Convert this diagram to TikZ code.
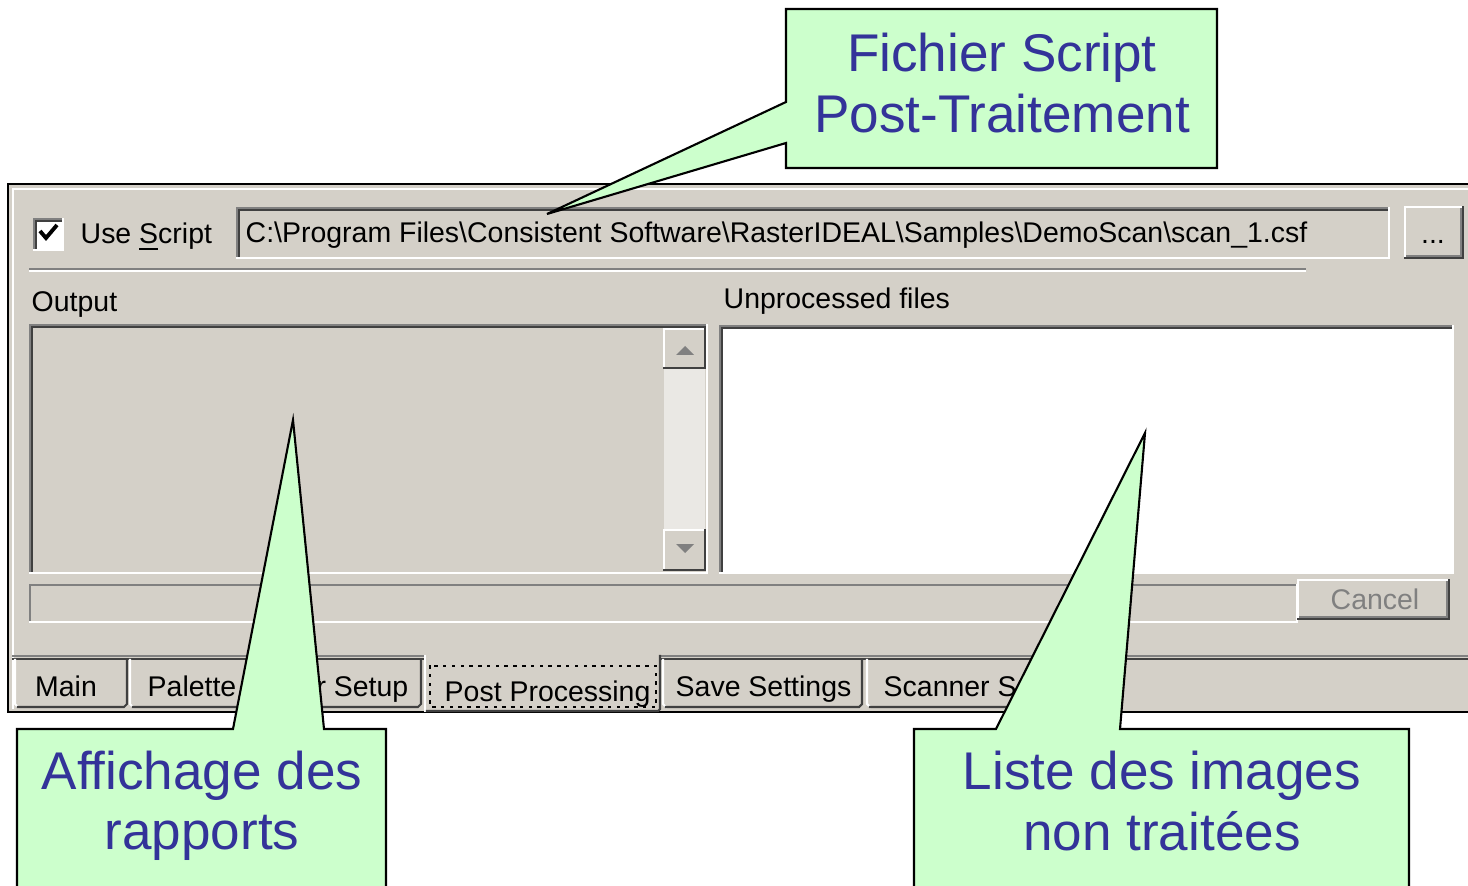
\documentclass[tikz,border=0pt]{standalone}
\usepackage{fontspec}
\setmainfont{Liberation Sans}
\definecolor{winface}{HTML}{D4D0C8}
\definecolor{winshadow}{HTML}{808080}
\definecolor{windark}{HTML}{404040}
\definecolor{scrolltrack}{HTML}{EAE8E4}
\definecolor{notefill}{HTML}{CCFFCC}
\definecolor{notecol}{HTML}{333399}

\begin{document}
\begin{tikzpicture}[x=0.1mm,y=-0.1mm,line cap=rect,
  lit/.style={white,line width=0.6pt},
  shd/.style={winshadow,line width=0.6pt},
  drk/.style={windark,line width=0.6pt},
  wintext/.style={font=\fontsize{8.1}{9.7}\selectfont,inner sep=0pt},
  notebox/.style={draw=black,fill=notefill,line width=0.6pt},
  notetext/.style={font=\fontsize{15.1}{17.1}\selectfont,text=notecol,align=center,inner sep=0pt}]
\useasboundingbox (0,0) rectangle (1468,886);
\begin{scope}
\clip (0,0) rectangle (1468,886);
% dialog panel
\fill[winface] (8,184) rectangle (1490,712);
\draw[line width=0.7pt] (1490,184) -- (8,184) -- (8,712) -- (1490,712);
\draw[lit] (13,708) -- (13,189) -- (1490,189);

% check box, script path and browse button
\fill[white] (34,219) rectangle (63,250);
\draw[shd] (34,250) |- (63,219);
\draw[drk] (36,248) |- (61,221);
\draw[lit] (34,250) -| (63,219);
\draw[line width=1.1pt,line cap=butt] (40,231) -- (46,238) -- (57,225);
\node[wintext,anchor=base west] (usescript) at (80,244) {Use \underline{S}cript};
\draw[shd] (237,258) |- (1389,208);
\draw[drk] (239,256) |- (1387,210);
\draw[lit] (237,258) -| (1389,208);
\node[wintext,anchor=base west] (scriptpath) at (245,243) {C:\textbackslash{}Program Files\textbackslash{}Consistent Software\textbackslash{}RasterIDEAL\textbackslash{}Samples\textbackslash{}DemoScan\textbackslash{}scan\_1.csf};
\draw[lit] (1405,258) |- (1463,207);
\draw[drk] (1405,258) -| (1463,207);
\draw[shd] (1407,256) -| (1461,209);
\node[wintext,anchor=base] (browse) at (1433,244) {...};
\draw[shd] (30,269) -- (1305,269);
\draw[lit] (30,271) -- (1305,271);

% output and unprocessed lists
\node[wintext,anchor=base west] (outputlabel) at (31,312) {Output};
\node[wintext,anchor=base west] (unproclabel) at (723,309) {Unprocessed files};
\draw[shd] (30,573) |- (707,325);
\draw[drk] (32,571) |- (705,327);
\draw[lit] (30,573) -| (707,325);
\fill[scrolltrack] (664,368) rectangle (705,530);
\draw[lit] (664,368) |- (705,329);
\draw[drk] (664,368) -| (705,329);
\fill[winshadow] (676,355) -- (694,355) -- (685,346) -- cycle;
\draw[lit] (664,570) |- (705,530);
\draw[drk] (664,570) -| (705,530);
\fill[winshadow] (676,544) -- (694,544) -- (685,553) -- cycle;
\fill[white] (720,326) rectangle (1453,573);
\draw[shd] (720,573) |- (1453,326);
\draw[drk] (722,571) |- (1451,328);
\draw[lit] (720,573) -| (1453,326);

% progress bar and cancel button
\draw[shd] (30,622) |- (1297,585);
\draw[lit] (30,622) -| (1297,585);
\draw[lit] (1298,619) |- (1449,580);
\draw[drk] (1298,619) -| (1449,580);
\draw[shd] (1300,617) -| (1447,582);
\node[wintext,anchor=base,text=winshadow] (cancel) at (1375,609) {Cancel};

% tabs
\draw[shd] (13,656) -- (425,656) (660,656) -- (1490,656);
\draw[drk] (13,659) -- (425,659) (660,659) -- (1490,659);
\draw[lit] (15,660) -- (15,704) -- (18,707);
\draw[drk] (18,707) -- (124,707) -- (127,704) -- (127,660);
\draw[lit] (130,660) -- (130,704) -- (133,707);
\draw[drk] (133,707) -- (277,707) -- (280,704) -- (280,660);
\draw[lit] (282,660) -- (282,704) -- (285,707);
\draw[drk] (285,707) -- (418,707) -- (421,704) -- (421,660);
\draw[lit] (663,660) -- (663,704) -- (666,707);
\draw[drk] (666,707) -- (859,707) -- (862,704) -- (862,660);
\draw[lit] (867,660) -- (867,704) -- (870,707);
\draw[drk] (870,707) -- (1057,707) -- (1060,704) -- (1060,660);
\draw[lit] (425,656) -- (425,711);
\draw[drk] (427,711) -- (658,711) -- (660,709) -- (660,656);
\draw[dotted,line width=0.5pt] (430,666) rectangle (656,707);
\node[wintext,anchor=base] (tabmain) at (66,696) {Main};
\node[wintext,anchor=base west] (tabpalette) at (147,696) {Palette};
\node[wintext,anchor=base east] (tabsetup) at (409,696) {r Setup};
\node[wintext,anchor=base west] (tabpost) at (444,701) {Post Processing};
\node[wintext,anchor=base west] (tabsave) at (675,696) {Save Settings};
\node[wintext,anchor=base west] (tabscanner) at (883,696) {Scanner S};

% callouts
\coordinate (scripttip) at (547,214);
\coordinate (reporttip) at (293,420);
\coordinate (imagestip) at (1145,433);
\draw[notebox] (786,9) -- (1217,9) -- (1217,168) -- (786,168) -- (786,143) -- (scripttip) -- (786,102) -- cycle;
\node[notetext] (notescript) at (1002,83) {Fichier Script\\Post-Traitement};
\draw[notebox] (17,729) -- (233,729) -- (reporttip) -- (324,729) -- (386,729) -- (386,900) -- (17,900) -- cycle;
\node[notetext] (notereport) at (202,806) {Affichage des\\rapports};
\draw[notebox] (914,729) -- (996,729) -- (imagestip) -- (1120,729) -- (1409,729) -- (1409,900) -- (914,900) -- cycle;
\node[notetext] (noteimages) at (1162,801) {Liste des images\\non traitées};
\end{scope}
\end{tikzpicture}
\end{document}
